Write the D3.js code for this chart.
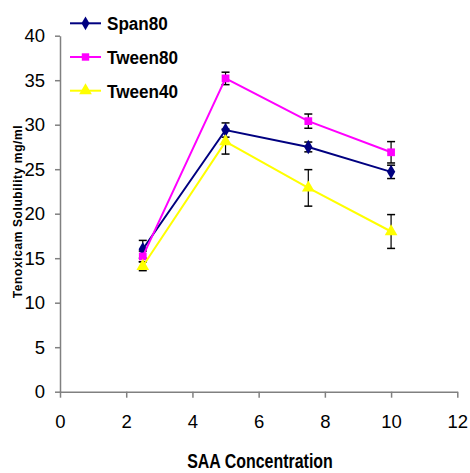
<!DOCTYPE html>
<html><head><meta charset="utf-8">
<script src="https://cdn.jsdelivr.net/npm/d3@7"></script>
<style>body{margin:0;background:#fff}svg{display:block}</style>
</head><body>
<script>
const concentrations = [2.5, 5, 7.5, 10];
const seriesNames = ["Span80", "Tween80", "Tween40"];
const span80 = [16.0, 29.4, 27.5, 24.7];
const span80Err = [1.0, 0.8, 0.55, 0.75];
const tween80 = [15.2, 35.2, 30.4, 26.9];
const tween80Err = [0.6, 0.7, 0.8, 1.2];
const tween40 = [14.1, 28.1, 22.9, 18.0];
const tween40Err = [0.5, 1.4, 2.05, 1.9];
const xTicks = [0, 2, 4, 6, 8, 10, 12];
const yTicks = [0, 5, 10, 15, 20, 25, 30, 35, 40];

const colors = ["#000080", "#FF00FF", "#FFFF00"];
const series = [
  {name: seriesNames[0], v: span80, e: span80Err, color: colors[0], shape: d3.symbolDiamond},
  {name: seriesNames[1], v: tween80, e: tween80Err, color: colors[1], shape: d3.symbolSquare},
  {name: seriesNames[2], v: tween40, e: tween40Err, color: colors[2], shape: d3.symbolTriangle}
];

const W = 470, H = 473;
const svg = d3.select("body").append("svg").attr("width", W).attr("height", H);
const x = d3.scaleLinear().domain([0, 12]).range([60, 457.3]);
const y = d3.scaleLinear().domain([0, 40]).range([391.7, 35.7]);

const font = "Arial, 'Liberation Sans', sans-serif";

const xAxis = svg.append("g").attr("transform", `translate(0,${y(0)})`)
  .call(d3.axisBottom(x).tickValues(xTicks).tickSize(6).tickSizeOuter(0).tickPadding(17));
const yAxis = svg.append("g").attr("transform", `translate(${x(0)},0)`)
  .call(d3.axisLeft(y).tickValues(yTicks).tickSize(5).tickSizeOuter(0).tickPadding(10));
[xAxis, yAxis].forEach(a => {
  a.select(".domain").attr("stroke", "#808080").attr("stroke-width", 1.5);
  a.selectAll(".tick line").attr("stroke", "#808080").attr("stroke-width", 1.5);
  a.selectAll("text").attr("font-family", font).attr("font-size", 18.5).attr("fill", "#000");
});

// error bars
series.forEach(s => {
  const g = svg.append("g");
  concentrations.forEach((c, i) => {
    const cx = x(c), y1 = y(s.v[i] + s.e[i]), y2 = y(s.v[i] - s.e[i]);
    g.append("line").attr("x1", cx).attr("x2", cx).attr("y1", y1).attr("y2", y2).attr("stroke", "#000").attr("stroke-width", 1.2);
    [y1, y2].forEach(yy => g.append("line").attr("x1", cx - 4).attr("x2", cx + 4).attr("y1", yy).attr("y2", yy).attr("stroke", "#000").attr("stroke-width", 1.5));
  });
});

// lines and markers
const line = d3.line().x((d, i) => x(concentrations[i])).y(d => y(d));
series.forEach(s => {
  svg.append("path").datum(s.v).attr("d", line).attr("fill", "none").attr("stroke", s.color).attr("stroke-width", 2);
  svg.append("g").selectAll("path").data(s.v).join("path")
    .attr("transform", (d, i) => `translate(${x(concentrations[i])},${y(d)})`)
    .attr("d", d3.symbol().type(s.shape).size(s.shape === d3.symbolTriangle ? 70 : 60))
    .attr("fill", s.color);
});

// legend
series.forEach((s, i) => {
  const ly = 23.3 + i * 33.7;
  const g = svg.append("g");
  g.append("line").attr("x1", 70).attr("x2", 101).attr("y1", ly).attr("y2", ly).attr("stroke", s.color).attr("stroke-width", 2);
  g.append("path").attr("transform", `translate(85.5,${ly})`)
    .attr("d", d3.symbol().type(s.shape).size(s.shape === d3.symbolTriangle ? 70 : 55)).attr("fill", s.color);
  g.append("text").attr("transform", `translate(107,${ly + 6.8}) scale(0.9,1)`).text(s.name)
    .attr("font-family", font).attr("font-size", 19).attr("font-weight", "bold");
});

// axis titles
svg.append("text").attr("transform", "translate(260,468) scale(0.76,1)").attr("text-anchor", "middle")
  .attr("font-family", font).attr("font-size", 21).attr("font-weight", "bold")
  .text("SAA Concentration");
svg.append("text").attr("transform", "translate(22,211.5) rotate(-90)").attr("text-anchor", "middle")
  .attr("font-family", font).attr("font-size", 12).attr("font-weight", "bold").attr("letter-spacing", "0.6px")
  .text("Tenoxicam Solubility mg/ml");
</script>
</body></html>
